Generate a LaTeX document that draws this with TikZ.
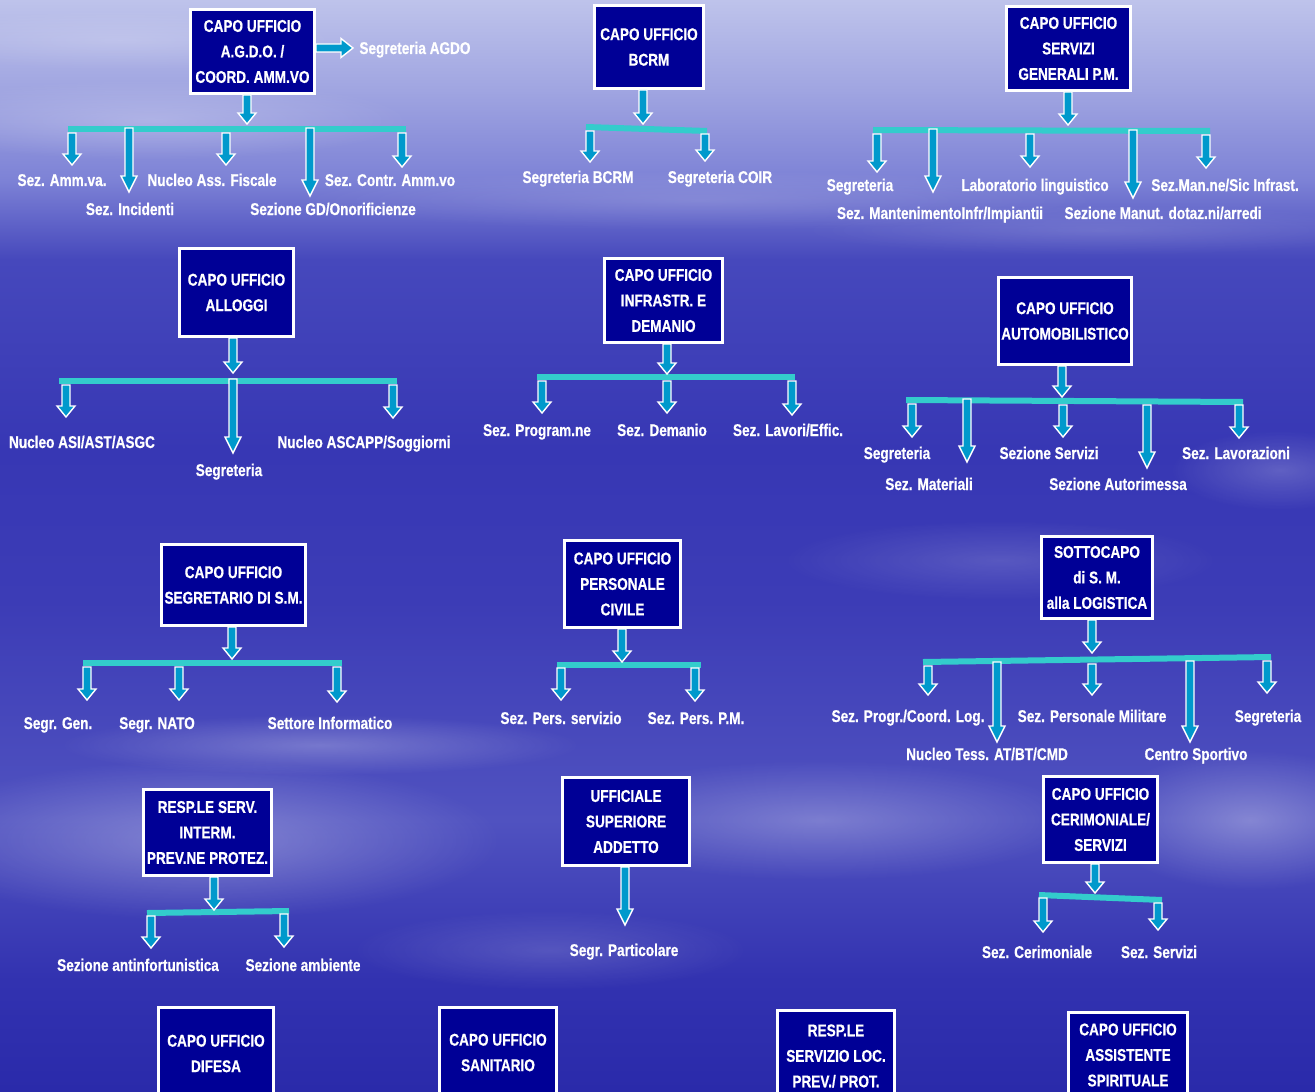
\documentclass[tikz,border=0pt]{standalone}
\usepackage{fontspec}
\setmainfont{Liberation Sans}[FakeStretch=0.8, BoldFeatures={FakeBold=0.6}]
\usetikzlibrary{calc,fadings}
\definecolor{navy}{RGB}{0,0,150}
\definecolor{barc}{RGB}{51,204,204}
\definecolor{arrc}{RGB}{0,153,204}
\definecolor{sk0}{RGB}{190,195,235}
\definecolor{sk1}{RGB}{160,165,225}
\definecolor{sk2}{RGB}{125,130,214}
\definecolor{sk3}{RGB}{70,72,188}
\definecolor{sk4}{RGB}{55,55,180}
\definecolor{sk5}{RGB}{60,60,182}
\definecolor{sk6}{RGB}{80,82,192}
\definecolor{sk7}{RGB}{50,50,176}
\definecolor{sk8}{RGB}{42,42,170}
\pgfdeclareverticalshading{sky}{100bp}{color(0bp)=(sk8); color(25bp)=(sk8); color(30.085bp)=(sk7); color(37.42bp)=(sk6); color(47.5bp)=(sk5); color(54.375bp)=(sk4); color(63.1bp)=(sk3); color(66.75bp)=(sk2); color(70.875bp)=(sk1); color(75bp)=(sk0); color(100bp)=(sk0)}
\tikzfading[name=softblob, inner color=transparent!0, outer color=transparent!100]
\tikzset{
  box/.style={draw=white, line width=1.5pt, fill=navy, text=white, align=center,
    font=\fontsize{8.5}{12.75}\selectfont\bfseries, inner sep=0pt},
  lab/.style={text=white, font=\fontsize{8.5}{10}\selectfont\bfseries, inner sep=0pt,
    text height=6pt, text depth=0pt},
  barst/.style={draw=barc, line width=3pt},
  blkarr/.style={fill=arrc, draw=white, line width=0.7pt, line join=miter},
  cloud/.style={fill=white, path fading=softblob}
}
\newcommand\blk[6]{%
  \coordinate (#1s) at (#2,#3);
  \coordinate (#1e) at (#2,#4);
  \path[blkarr] let \p1=(#1s), \p2=(#1e) in
    (\x1-2pt,\y1) -- (\x1-2pt,\y2+#6) -- (\x1-#5,\y2+#6) -- (\p2) --
    (\x1+#5,\y2+#6) -- (\x1+2pt,\y2+#6) -- (\x1+2pt,\y1) -- cycle;}
\newcommand\sarr[4]{\blk{#1}{#2}{#3}{#4}{4.5pt}{5.5pt}}
\newcommand\larr[4]{\blk{#1}{#2}{#3}{#4}{4pt}{8pt}}
\newcommand\tbar[5]{%
  \coordinate (#1l) at (#2,#3);
  \coordinate (#1r) at (#4,#5);
  \draw[barst] (#1l) -- (#1r);}
\begin{document}
\begin{tikzpicture}[x=0.5pt,y=-0.5pt]
\useasboundingbox (0,0) rectangle (1315,1091);
\clip (0,0) rectangle (1315,1091);
\shade[shading=sky] (0,0) rectangle (1315,1091);
% clouds
\fill[cloud, opacity=0.25] (150,120) ellipse [x radius=260, y radius=40];
\fill[cloud, opacity=0.18] (120,40) ellipse [x radius=220, y radius=30];
\fill[cloud, opacity=0.15] (700,200) ellipse [x radius=400, y radius=30];
\fill[cloud, opacity=0.12] (1100,230) ellipse [x radius=300, y radius=25];
\fill[cloud, opacity=0.3] (200,840) ellipse [x radius=300, y radius=80];
\fill[cloud, opacity=0.25] (820,820) ellipse [x radius=260, y radius=60];
\fill[cloud, opacity=0.3] (1250,820) ellipse [x radius=150, y radius=70];
\fill[cloud, opacity=0.25] (320,745) ellipse [x radius=260, y radius=30];
\fill[cloud, opacity=0.2] (1280,470) ellipse [x radius=110, y radius=40];
\fill[cloud, opacity=0.15] (550,950) ellipse [x radius=200, y radius=40];
\fill[cloud, opacity=0.15] (1000,560) ellipse [x radius=220, y radius=40];

% ---------- boxes ----------
\node[box, minimum width=62pt, minimum height=42pt] (b1) at (252.5,51.5) {CAPO UFFICIO\\A.G.D.O. /\\COORD. AMM.VO};
\node[box, minimum width=54.5pt, minimum height=41.5pt] (b2) at (649,47) {CAPO UFFICIO\\BCRM};
\node[box, minimum width=62pt, minimum height=42pt] (b3) at (1068.5,48.5) {CAPO UFFICIO\\SERVIZI\\GENERALI P.M.};
\node[box, minimum width=57pt, minimum height=44pt] (b4) at (236.5,292.5) {CAPO UFFICIO\\ALLOGGI};
\node[box, minimum width=59pt, minimum height=42pt] (b5) at (663.5,300.5) {CAPO UFFICIO\\INFRASTR. E\\DEMANIO};
\node[box, minimum width=66.5pt, minimum height=43.5pt] (b6) at (1065,321) {CAPO UFFICIO\\AUTOMOBILISTICO};
\node[box, minimum width=72pt, minimum height=40.5pt] (b7) at (233.5,585) {CAPO UFFICIO\\SEGRETARIO DI S.M.};
\node[box, minimum width=58pt, minimum height=43.5pt] (b8) at (622.5,584) {CAPO UFFICIO\\PERSONALE\\CIVILE};
\node[box, minimum width=55.5pt, minimum height=41pt] (b9) at (1097,577.5) {SOTTOCAPO\\di S. M.\\alla LOGISTICA};
\node[box, minimum width=64pt, minimum height=43pt] (b10) at (207.5,832.5) {RESP.LE SERV.\\INTERM.\\PREV.NE PROTEZ.};
\node[box, minimum width=63.5pt, minimum height=44pt] (b11) at (626,821.5) {UFFICIALE\\SUPERIORE\\ADDETTO};
\node[box, minimum width=57pt, minimum height=43pt] (b12) at (1100.5,819.5) {CAPO UFFICIO\\CERIMONIALE/\\SERVIZI};
\node[box, minimum width=57.5pt, minimum height=46pt] (b13) at (216,1053.5) {CAPO UFFICIO\\DIFESA};
\node[box, minimum width=58.5pt, minimum height=45pt] (b14) at (498,1052.5) {CAPO UFFICIO\\SANITARIO};
\node[box, minimum width=58.5pt, minimum height=45.5pt] (b15) at (836,1056) {RESP.LE\\SERVIZIO LOC.\\PREV./ PROT.};
\node[box, minimum width=59.5pt, minimum height=42.5pt] (b16) at (1128,1055) {CAPO UFFICIO\\ASSISTENTE\\SPIRITUALE};

% ---------- bars ----------
\tbar{r1}{68}{129}{406}{129}
\tbar{r2}{586}{127}{707}{131}
\tbar{r3}{873}{130}{1210}{131}
\tbar{r4}{59}{381}{397}{381}
\tbar{r5}{537}{377}{795}{377}
\tbar{r6}{906}{400}{1243}{402}
\tbar{r7}{83}{663}{342}{663}
\tbar{r8}{557}{665}{701}{665}
\tbar{r9}{923}{662}{1271}{657}
\tbar{r10}{147}{913}{289}{911}
\tbar{r12}{1039}{895}{1162}{900}

% ---------- arrows ----------
% group 1
\coordinate (h1s) at (316,48);
\coordinate (h1e) at (353,48);
\path[blkarr] let \p1=(h1s), \p2=(h1e) in
  (\x1,\y1+2pt) -- (\x2-6pt,\y1+2pt) -- (\x2-6pt,\y1+4.75pt) -- (\p2) --
  (\x2-6pt,\y1-4.75pt) -- (\x2-6pt,\y1-2pt) -- (\x1,\y1-2pt) -- cycle;
\sarr{a1}{247}{95}{124}
\sarr{a1a}{72}{133}{165}
\larr{a1b}{129}{128}{192}
\sarr{a1c}{226}{133}{165}
\larr{a1d}{310}{128}{196}
\sarr{a1e}{402}{133}{167}
% group 2
\sarr{a2}{643}{90}{124}
\sarr{a2a}{590}{131}{162}
\sarr{a2b}{705}{134}{161}
% group 3
\sarr{a3}{1068}{92}{125}
\sarr{a3a}{877}{134}{172}
\larr{a3b}{933}{129}{192}
\sarr{a3c}{1030}{134}{167}
\larr{a3d}{1133}{130}{198}
\sarr{a3e}{1206}{135}{168}
% group 4
\sarr{a4}{233}{338}{373}
\sarr{a4a}{66}{385}{417}
\larr{a4b}{233}{379}{453}
\sarr{a4c}{393}{385}{418}
% group 5
\sarr{a5}{667}{344}{374}
\sarr{a5a}{542}{381}{413}
\sarr{a5b}{667}{381}{413}
\sarr{a5c}{792}{381}{415}
% group 6
\sarr{a6}{1062}{366}{397}
\sarr{a6a}{912}{404}{437}
\larr{a6b}{967}{399}{462}
\sarr{a6c}{1063}{405}{437}
\larr{a6d}{1147}{405}{468}
\sarr{a6e}{1239}{405}{438}
% group 7
\sarr{a7}{232}{627}{659}
\sarr{a7a}{87}{667}{700}
\sarr{a7b}{179}{667}{700}
\sarr{a7c}{337}{667}{702}
% group 8
\sarr{a8}{622}{629}{662}
\sarr{a8a}{561}{668}{700}
\sarr{a8b}{695}{668}{701}
% group 9
\sarr{a9}{1092}{620}{653}
\sarr{a9a}{928}{666}{695}
\larr{a9b}{997}{662}{742}
\sarr{a9c}{1092}{664}{695}
\larr{a9d}{1190}{661}{742}
\sarr{a9e}{1267}{661}{693}
% group 10
\sarr{a10}{214}{877}{910}
\sarr{a10a}{151}{916}{948}
\sarr{a10b}{284}{914}{947}
% group 11
\larr{a11}{625}{867}{925}
% group 12
\sarr{a12}{1095}{864}{893}
\sarr{a12a}{1043}{898}{932}
\sarr{a12b}{1158}{903}{930}

% ---------- labels ----------
\node[lab, anchor=west] (l1) at (359,48) {Segreteria AGDO};
\node[lab] (l1a) at (62,180) {Sez. Amm.va.};
\node[lab] (l1b) at (130,209) {Sez. Incidenti};
\node[lab] (l1c) at (212,180) {Nucleo Ass. Fiscale};
\node[lab] (l1d) at (333,209) {Sezione GD/Onorificienze};
\node[lab] (l1e) at (390,180) {Sez. Contr. Amm.vo};
\node[lab] (l2a) at (578,177) {Segreteria BCRM};
\node[lab] (l2b) at (720,177) {Segreteria COIR};
\node[lab] (l3a) at (860,185) {Segreteria};
\node[lab] (l3b) at (940,213) {Sez. MantenimentoInfr/Impiantii};
\node[lab] (l3c) at (1035,185) {Laboratorio linguistico};
\node[lab] (l3d) at (1163,213) {Sezione Manut. dotaz.ni/arredi};
\node[lab] (l3e) at (1225,185) {Sez.Man.ne/Sic Infrast.};
\node[lab] (l4a) at (82,442) {Nucleo ASI/AST/ASGC};
\node[lab] (l4b) at (229,470) {Segreteria};
\node[lab] (l4c) at (364,442) {Nucleo ASCAPP/Soggiorni};
\node[lab] (l5a) at (537,430) {Sez. Program.ne};
\node[lab] (l5b) at (662,430) {Sez. Demanio};
\node[lab] (l5c) at (788,430) {Sez. Lavori/Effic.};
\node[lab] (l6a) at (897,453) {Segreteria};
\node[lab] (l6b) at (929,484) {Sez. Materiali};
\node[lab] (l6c) at (1049,453) {Sezione Servizi};
\node[lab] (l6d) at (1118,484) {Sezione Autorimessa};
\node[lab] (l6e) at (1236,453) {Sez. Lavorazioni};
\node[lab] (l7a) at (58,723) {Segr. Gen.};
\node[lab] (l7b) at (157,723) {Segr. NATO};
\node[lab] (l7c) at (330,723) {Settore Informatico};
\node[lab] (l8a) at (561,718) {Sez. Pers. servizio};
\node[lab] (l8b) at (696,718) {Sez. Pers. P.M.};
\node[lab] (l9a) at (908,716) {Sez. Progr./Coord. Log.};
\node[lab] (l9b) at (987,754) {Nucleo Tess. AT/BT/CMD};
\node[lab] (l9c) at (1092,716) {Sez. Personale Militare};
\node[lab] (l9d) at (1196,754) {Centro Sportivo};
\node[lab] (l9e) at (1268,716) {Segreteria};
\node[lab] (l10a) at (138,965) {Sezione antinfortunistica};
\node[lab] (l10b) at (303,965) {Sezione ambiente};
\node[lab] (l11) at (624,950) {Segr. Particolare};
\node[lab] (l12a) at (1037,952) {Sez. Cerimoniale};
\node[lab] (l12b) at (1159,952) {Sez. Servizi};
\end{tikzpicture}
\end{document}
